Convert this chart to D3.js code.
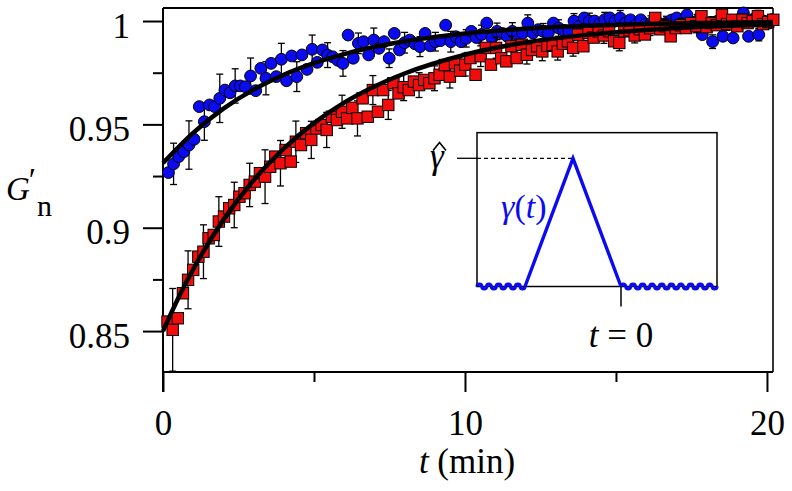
<!DOCTYPE html>
<html><head><meta charset="utf-8">
<script src="https://cdn.jsdelivr.net/npm/d3@7"></script>
<style>html,body{margin:0;padding:0;background:#fff;} svg{display:block;} text{font-family:"Liberation Serif","Times New Roman","DejaVu Serif",serif;}</style>
</head><body><svg id="c" width="792" height="491"></svg>
<script>
// ---------- data ----------
const blueT = [0.18,0.35,0.52,0.69,0.86,1.03,1.20,1.37,1.54,1.71,
1.88,2.05,2.22,2.39,2.56,2.73,2.90,3.07,3.24,3.41,
3.58,3.75,3.92,4.09,4.26,4.43,4.60,4.77,4.94,5.11,
5.28,5.45,5.62,5.79,5.96,6.13,6.30,6.47,6.64,6.81,
6.98,7.15,7.32,7.49,7.66,7.83,8.00,8.17,8.34,8.51,
8.68,8.85,9.02,9.19,9.36,9.53,9.70,9.87,10.04,10.21,
10.38,10.55,10.72,10.89,11.06,11.23,11.40,11.57,11.74,11.91,
12.08,12.25,12.42,12.59,12.76,12.93,13.10,13.27,13.44,13.61,
13.78,13.95,14.12,14.29,14.46,14.63,14.80,14.97,15.14,15.31,
15.48,15.65,15.82,15.99,16.16,16.33,16.50,16.67,16.84,17.01,
17.18,17.35,17.52,17.69,17.86,18.03,18.20,18.37,18.54,18.71,
18.88,19.05,19.22,19.39,19.56,19.73,19.90,20.07];
const blueG = [0.9267,0.9309,0.9344,0.9368,0.9400,0.9428,0.9586,0.9513,0.9594,0.9586,
0.9626,0.9666,0.9653,0.9686,0.9686,0.9682,0.9734,0.9663,0.9771,0.9723,
0.9795,0.9731,0.9815,0.9711,0.9831,0.9731,0.9836,0.9766,0.9863,0.9800,
0.9860,0.9835,0.9827,0.9810,0.9795,0.9932,0.9820,0.9892,0.9900,0.9836,
0.9908,0.9868,0.9900,0.9820,0.9940,0.9860,0.9895,0.9908,0.9890,0.9876,
0.9940,0.9880,0.9900,0.9905,0.9980,0.9900,0.9924,0.9900,0.9916,0.9950,
0.9920,0.9935,0.9990,0.9918,0.9950,0.9940,0.9926,0.9950,0.9934,0.9942,
0.9990,0.9942,0.9958,0.9950,0.9942,0.9990,0.9966,0.9955,0.9950,1.0000,
0.9975,1.0015,1.0000,1.0000,0.9985,1.0007,1.0015,1.0000,1.0015,0.9990,
1.0006,0.9980,1.0006,0.9985,0.9990,1.0000,0.9985,0.9990,1.0005,1.0015,
0.9985,1.0030,0.9990,1.0000,0.9934,0.9990,0.9900,1.0000,0.9926,0.9995,
0.9918,1.0000,1.0039,0.9926,1.0010,0.9934,1.0000,0.9990];
// error half-widths, for every 3rd point starting at index 1
const blueErr = [0.0100,0.0117,0.0090,0.0117,0.0083,0.0087,0.0080,0.0077,0.0072,0.0069,
0.0060,0.0062,0.0050,0.0058,0.0045,0.0050,0.0048,0.0045,0.0050,0.0042,
0.0045,0.0040,0.0042,0.0040,0.0038,0.0040,0.0036,0.0038,0.0035,0.0036,
0.0034,0.0035,0.0033,0.0034,0.0032,0.0033,0.0032,0.0031,0.0030];

const redT = [0.15,0.32,0.49,0.66,0.83,1.00,1.17,1.34,1.51,1.68,
1.85,2.02,2.19,2.36,2.53,2.70,2.87,3.04,3.21,3.38,
3.55,3.72,3.89,4.06,4.23,4.40,4.57,4.74,4.91,5.08,
5.25,5.42,5.59,5.76,5.93,6.10,6.27,6.44,6.61,6.78,
6.95,7.12,7.29,7.46,7.63,7.80,7.97,8.14,8.31,8.48,
8.65,8.82,8.99,9.16,9.33,9.50,9.67,9.84,10.01,10.18,
10.35,10.52,10.69,10.86,11.03,11.20,11.37,11.54,11.71,11.88,
12.05,12.22,12.39,12.56,12.73,12.90,13.07,13.24,13.41,13.58,
13.75,13.92,14.09,14.26,14.43,14.60,14.77,14.94,15.11,15.28,
15.45,15.62,15.79,15.96,16.13,16.30,16.47,16.64,16.81,16.98,
17.15,17.32,17.49,17.66,17.83,18.00,18.17,18.34,18.51,18.68,
18.85,19.02,19.19,19.36,19.53,19.70,19.87,20.04,20.21];
const redG = [0.8546,0.8506,0.8562,0.8683,0.8748,0.8796,0.8860,0.8884,0.8949,0.8965,
0.9030,0.9054,0.9094,0.9110,0.9150,0.9167,0.9207,0.9223,0.9264,0.9247,
0.9295,0.9344,0.9312,0.9376,0.9320,0.9416,0.9400,0.9457,0.9425,0.9480,
0.9497,0.9473,0.9537,0.9521,0.9561,0.9529,0.9580,0.9529,0.9626,0.9537,
0.9666,0.9561,0.9666,0.9594,0.9699,0.9650,0.9680,0.9666,0.9707,0.9690,
0.9715,0.9699,0.9723,0.9740,0.9787,0.9731,0.9795,0.9760,0.9789,0.9821,
0.9740,0.9830,0.9870,0.9789,0.9870,0.9820,0.9805,0.9878,0.9821,0.9885,
0.9837,0.9860,0.9878,0.9853,0.9880,0.9885,0.9853,0.9890,0.9902,0.9870,
0.9934,0.9878,0.9942,0.9920,0.9950,0.9930,0.9950,0.9902,0.9894,0.9950,
0.9955,0.9930,0.9960,0.9935,0.9965,1.0015,0.9960,0.9975,0.9926,0.9966,
0.9980,0.9966,0.9990,0.9975,1.0023,0.9970,0.9990,0.9980,1.0030,0.9985,
1.0006,0.9975,1.0006,0.9990,1.0000,1.0023,0.9985,0.9995,1.0006];
const redErr = [0.0200,0.0140,0.0130,0.0120,0.0110,0.0105,0.0130,0.0110,0.0100,0.0090,
0.0085,0.0080,0.0085,0.0070,0.0070,0.0065,0.0060,0.0060,0.0055,0.0055,
0.0050,0.0050,0.0048,0.0045,0.0045,0.0042,0.0040,0.0040,0.0038,0.0038,
0.0036,0.0035,0.0034,0.0033,0.0032,0.0031,0.0030,0.0030,0.0029,0.0028];

// fitted curves
const blueFitT = [0,1,2,3,4,5,6,8,10,12,14,16,18,20.2];
const blueFitG = [0.9313,0.9459,0.9576,0.9668,0.9740,0.9796,0.9840,0.9902,0.9940,0.9963,0.9977,0.9986,0.9991,0.9995];
const redFitT = [0,0.5,1,2,3,4,5,6,7,8,10,12,14,16,18,20.2];
const redFitG = [0.8500,0.8658,0.8799,0.9038,0.9230,0.9383,0.9506,0.9605,0.9683,0.9746,0.9837,0.9896,0.9933,0.9957,0.9973,0.9983];

// axes ticks
const xMajor = [0,10,20];
const xMinor = [5,15];
const yMajor = [0.85,0.9,0.95,1];
const yMajorLabels = ["0.85","0.9","0.95","1"];
const yMinor = [0.875,0.925,0.975];

// inset schematic: strain pulse gamma(t)
const insetT = [-1,-0.5,0];
const insetGamma = [0,1,0];

// ---------- drawing ----------
const ERR_EVERY = 3, ERR_START = 1;
const BLUE = "#0b0bf2", RED = "#f20c0c", INK = "#000";
const FONT = '"Liberation Serif","Times New Roman","DejaVu Serif",serif';
const svg = d3.select('#c');
const x = d3.scaleLinear().domain([0,20.2]).range([163,773]);
const y = d3.scaleLinear().domain([0.8302,1.0063]).range([372,8]);

svg.append('clipPath').attr('id','plotclip').append('rect')
  .attr('x',x(0)).attr('y',y(1.0063)).attr('width',x(20.2)-x(0)).attr('height',y(0.8302)-y(1.0063));

// frame
svg.append('line').attr('x1',x(0)).attr('x2',x(20.2)).attr('y1',y(1.0063)).attr('y2',y(1.0063)).attr('stroke',INK).attr('stroke-width',2);
svg.append('line').attr('x1',x(20.2)).attr('x2',x(20.2)).attr('y1',y(1.0063)).attr('y2',y(0.8302)).attr('stroke',INK).attr('stroke-width',1.6);
svg.append('line').attr('x1',x(0)).attr('x2',x(20.2)).attr('y1',y(0.8302)).attr('y2',y(0.8302)).attr('stroke',INK).attr('stroke-width',2);
svg.append('line').attr('x1',x(0)).attr('x2',x(0)).attr('y1',y(1.0063)).attr('y2',y(0.8302)+20).attr('stroke',INK).attr('stroke-width',2);

function styleAxis(g){
  g.select('.domain').remove();
  g.selectAll('.tick line').attr('stroke',INK).attr('stroke-width',2);
  g.attr('font-family',FONT).attr('font-size',35);
  g.selectAll('text').attr('fill',INK);
}
const gx = svg.append('g').attr('transform',`translate(0,${y(0.8302)})`)
  .call(d3.axisBottom(x).tickValues(xMajor).tickSize(20).tickFormat(d=>String(d)));
styleAxis(gx);
gx.selectAll('text').attr('y',63).attr('dy',0);
const gxm = svg.append('g').attr('transform',`translate(0,${y(0.8302)})`)
  .call(d3.axisBottom(x).tickValues(xMinor).tickSize(10).tickFormat(''));
styleAxis(gxm);

const gy = svg.append('g').attr('transform',`translate(${x(0)},0)`)
  .call(d3.axisLeft(y).tickValues(yMajor).tickSize(20).tickFormat((d,i)=>yMajorLabels[i]));
styleAxis(gy);
gy.selectAll('text').attr('x',-33).attr('dy',16);
const gym = svg.append('g').attr('transform',`translate(${x(0)},0)`)
  .call(d3.axisLeft(y).tickValues(yMinor).tickSize(10).tickFormat(''));
styleAxis(gym);

// axis labels
const xl = svg.append('text').attr('x',467).attr('y',473).attr('text-anchor','middle').attr('font-size',35).attr('fill',INK);
xl.append('tspan').attr('font-style','italic').text('t');
xl.append('tspan').text(' (min)');

const yl = svg.append('text').attr('x',6).attr('y',200).attr('font-size',33).attr('fill',INK);
yl.append('tspan').attr('font-style','italic').text('G');
yl.append('tspan').attr('dx',-1).attr('dy',-9).text('\u2032');
yl.append('tspan').attr('font-size',30).attr('dx',1).attr('dy',25).text('n');

// inset
const ix = d3.scaleLinear().domain([-1.5,1]).range([477,717]);
const iy = d3.scaleLinear().domain([0,1]).range([286.5,158.3]);
const inset = svg.append('g');
inset.append('rect').attr('x',ix(-1.5)).attr('y',iy(1.2)).attr('width',ix(1)-ix(-1.5)).attr('height',iy(0)-iy(1.2))
  .attr('fill','#fff').attr('stroke',INK).attr('stroke-width',1.5);
inset.append('line').attr('x1',ix(-1.5)-20).attr('x2',ix(-1.5)).attr('y1',iy(1)).attr('y2',iy(1)).attr('stroke',INK).attr('stroke-width',1.3);
inset.append('line').attr('x1',ix(-1.5)).attr('x2',ix(-0.5)).attr('y1',iy(1)).attr('y2',iy(1)).attr('stroke',INK).attr('stroke-width',1.2).attr('stroke-dasharray','4,3');
inset.append('line').attr('x1',ix(0)).attr('x2',ix(0)).attr('y1',iy(0)).attr('y2',iy(0)+20).attr('stroke',INK).attr('stroke-width',1.5);
function wave(x0,x1,yc){
  const n = Math.round((x1-x0)/4.8), h=(x1-x0)/n;
  let p = `M${x0},${yc}`;
  for(let i=0;i<n;i++) p += `a${h/2},${h/2} 0 0 ${i%2?0:1} ${h},0`;
  return p;
}
inset.append('path').attr('d',wave(ix(-1.5),ix(-1),iy(0))).attr('fill','none').attr('stroke',BLUE).attr('stroke-width',3.2);
inset.append('path').attr('d',wave(ix(0),ix(1),iy(0))).attr('fill','none').attr('stroke',BLUE).attr('stroke-width',3.2);
inset.append('path').datum(insetT.map((t,i)=>[t,insetGamma[i]]))
  .attr('d',d3.line().x(d=>ix(d[0])).y(d=>iy(d[1]))).attr('fill','none').attr('stroke',BLUE).attr('stroke-width',3.4).attr('stroke-linejoin','miter');
const gl = inset.append('text').attr('x',501).attr('y',218).attr('font-size',34).attr('fill',BLUE);
gl.append('tspan').attr('font-style','italic').text('\u03b3');
gl.append('tspan').text('(');
gl.append('tspan').attr('font-style','italic').text('t');
gl.append('tspan').text(')');
// gamma-hat label: italic gamma with a circumflex accent drawn above it
svg.append('text').attr('x',430).attr('y',168).attr('font-size',35).attr('font-style','italic').attr('fill',INK).text('\u03b3');
svg.append('path').attr('d','M433,150.5 L439.5,142.5 L446,150.5').attr('fill','none').attr('stroke',INK).attr('stroke-width',1.6).attr('stroke-linejoin','miter');
const t0 = svg.append('text').attr('x',ix(0)).attr('y',346.5).attr('text-anchor','middle').attr('font-size',35).attr('fill',INK);
t0.append('tspan').attr('font-style','italic').text('t');
t0.append('tspan').text(' = 0');

// data
function series(T,G,E,kind,color){
  const pts = T.map((t,i)=>({t,g:G[i],e:null}));
  E.forEach((e,j)=>{ const k = ERR_START + j*ERR_EVERY; if(pts[k]) pts[k].e = e; });
  const eb = svg.append('g').attr('clip-path','url(#plotclip)').attr('stroke',INK).attr('stroke-width',1.3);
  pts.filter(p=>p.e!==null).forEach(p=>{
    const cx=x(p.t), y1=y(p.g+p.e), y2=y(p.g-p.e);
    eb.append('line').attr('x1',cx).attr('x2',cx).attr('y1',y1).attr('y2',y2);
    eb.append('line').attr('x1',cx-3.5).attr('x2',cx+3.5).attr('y1',y1).attr('y2',y1);
    eb.append('line').attr('x1',cx-3.5).attr('x2',cx+3.5).attr('y1',y2).attr('y2',y2);
  });
  const g = svg.append('g');
  if(kind==='circle'){
    g.selectAll('circle').data(pts).join('circle')
      .attr('cx',d=>x(d.t)).attr('cy',d=>y(d.g)).attr('r',5.9)
      .attr('fill',color).attr('stroke','#000').attr('stroke-width',1);
  } else {
    g.selectAll('rect').data(pts).join('rect')
      .attr('x',d=>x(d.t)-5.7).attr('y',d=>y(d.g)-5.7).attr('width',11.4).attr('height',11.4)
      .attr('fill',color).attr('stroke','#000').attr('stroke-width',1);
  }
}
series(blueT,blueG,blueErr,'circle',BLUE);
series(redT,redG,redErr,'square',RED);

const fitLine = d3.line().x(d=>x(d[0])).y(d=>y(d[1])).curve(d3.curveMonotoneX);
svg.append('path').datum(blueFitT.map((t,i)=>[t,blueFitG[i]])).attr('d',fitLine)
  .attr('fill','none').attr('stroke',INK).attr('stroke-width',4.5);
svg.append('path').datum(redFitT.map((t,i)=>[t,redFitG[i]])).attr('d',fitLine)
  .attr('fill','none').attr('stroke',INK).attr('stroke-width',4.5);
</script>
</body></html>
